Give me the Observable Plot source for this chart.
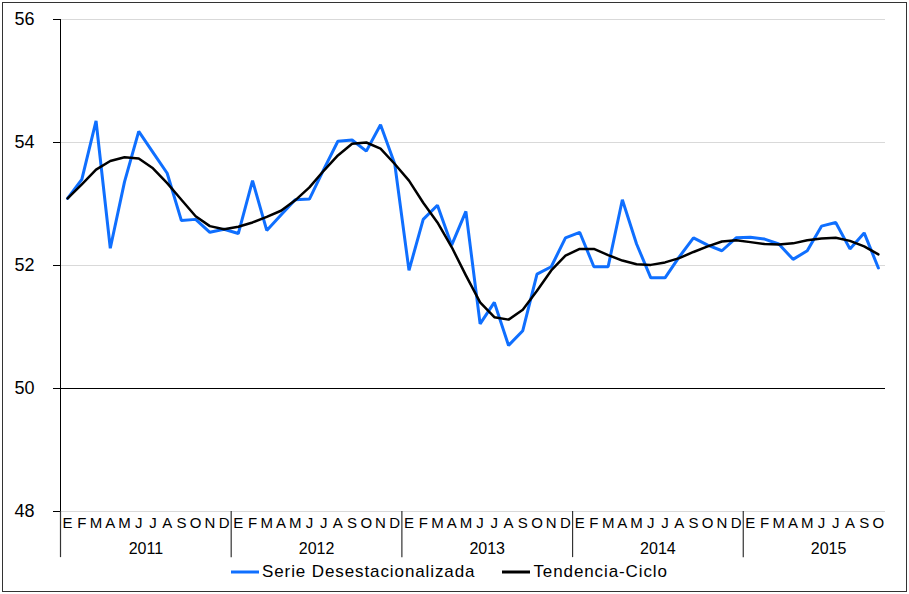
<!DOCTYPE html>
<html><head><meta charset="utf-8">
<script src="https://cdn.jsdelivr.net/npm/d3@7"></script>
<script src="https://cdn.jsdelivr.net/npm/@observablehq/plot@0.6"></script>
<style>
body{margin:0;background:#fff;font-family:"Liberation Sans",Arial,sans-serif;}
#wrap{position:relative;width:909px;height:594px;overflow:hidden;}
#frame{position:absolute;left:2px;top:2px;width:905px;height:590px;border:1.5px solid #333;box-sizing:border-box;pointer-events:none}
#chart{position:absolute;left:0;top:0}
#legend{position:absolute;left:230px;top:562px;display:flex;align-items:center;font-size:17px;letter-spacing:0.9px;color:#000;white-space:nowrap}
#legend .item{display:flex;align-items:center;margin-right:26px}
#legend svg{margin-right:2px}
</style></head>
<body>
<div id="wrap"><div id="chart"></div><div id="legend"></div><div id="frame"></div></div>
<script>
const years = [2011, 2012, 2013, 2014, 2015];
const monthLetters = ["E","F","M","A","M","J","J","A","S","O","N","D"];
const yTicks = [48, 50, 52, 54, 56];
const seriesNames = ["Serie Desestacionalizada", "Tendencia-Ciclo"];
const seriesColors = ["#0f6fff", "#000000"];

const serie = [
  53.09, 53.40, 54.35, 52.28, 53.36, 54.18, 53.84, 53.50, 52.73, 52.75, 52.54, 52.59,
  52.52, 53.38, 52.57, 52.82, 53.07, 53.08, 53.56, 54.02, 54.04, 53.86, 54.29, 53.65,
  51.92, 52.75, 52.98, 52.33, 52.88, 51.05, 51.40, 50.70, 50.94, 51.86, 51.98, 52.45,
  52.54, 51.98, 51.98, 53.07, 52.35, 51.80, 51.80, 52.14, 52.45, 52.33, 52.24, 52.45,
  52.46, 52.43, 52.35, 52.10, 52.24, 52.64, 52.70, 52.27, 52.53, 51.96
];
const tendencia = [
  53.09, 53.32, 53.56, 53.70, 53.76, 53.74, 53.58, 53.34, 53.07, 52.80, 52.64, 52.59,
  52.63, 52.70, 52.79, 52.89, 53.06, 53.27, 53.54, 53.79, 53.98, 54.00, 53.90, 53.65,
  53.38, 53.02, 52.70, 52.30, 51.84, 51.40, 51.16, 51.12, 51.28, 51.59, 51.92, 52.16,
  52.27, 52.27, 52.17, 52.08, 52.02, 52.01, 52.05, 52.12, 52.22, 52.31, 52.39, 52.41,
  52.38, 52.35, 52.34, 52.36, 52.41, 52.44, 52.45, 52.40, 52.31, 52.18
];

const rows = serie.map((v, i) => ({
  i, year: years[Math.floor(i / 12)], letter: monthLetters[i % 12],
  serie: v, tend: tendencia[i]
}));
const yearRows = years.map((y, k) => ({year: y, start: k * 12}));

const width = 909, height = 560, mL = 60, mR = 24;
const step = (width - mL - mR) / rows.length;
const sepBottom = 47.25;

const chart = Plot.plot({
  width, height,
  marginLeft: mL, marginRight: mR, marginTop: 19, marginBottom: 49,
  x: {type: "point", domain: rows.map(d => d.i), padding: 0.5, round: false, axis: null},
  y: {domain: [48, 56], axis: null},
  style: {fontFamily: "'Liberation Sans', Arial, sans-serif", background: "#fff", color: "#000"},
  marks: [
    Plot.ruleY([48, 52, 54, 56], {stroke: "#d9d9d9", strokeWidth: 1}),
    Plot.ruleY([50], {stroke: "#000", strokeWidth: 1}),
    Plot.axisY({ticks: yTicks, tickSize: 7, tickPadding: 19, fontSize: 18, stroke: "#000"}),
    Plot.ruleX([0], {x: d => d, dx: -step / 2, y1: 48, y2: 56, stroke: "#000", strokeWidth: 1}),
    Plot.ruleX(yearRows, {x: "start", dx: -step / 2, y1: 48, y2: sepBottom, stroke: "#333", strokeWidth: 1.2}),
    Plot.text(rows, {x: "i", y: 48, text: "letter", dy: 12, fontSize: 15, fill: "#000"}),
    Plot.text(yearRows, {x: d => d.start + 5, y: 48, text: d => String(d.year), dx: step / 2, dy: 37, fontSize: 16, fill: "#000"}),
    Plot.line(rows, {x: "i", y: "serie", stroke: seriesColors[0], strokeWidth: 3, strokeLinejoin: "miter"}),
    Plot.line(rows, {x: "i", y: "tend", stroke: seriesColors[1], strokeWidth: 2.5})
  ]
});
document.getElementById("chart").appendChild(chart);

const legend = document.getElementById("legend");
seriesNames.forEach((name, k) => {
  const item = document.createElement("div");
  item.className = "item";
  item.innerHTML = `<svg width="30" height="10"><line x1="1" y1="5" x2="29" y2="5" stroke="${seriesColors[k]}" stroke-width="3"/></svg><span>${name}</span>`;
  legend.appendChild(item);
});
</script>
</body></html>
